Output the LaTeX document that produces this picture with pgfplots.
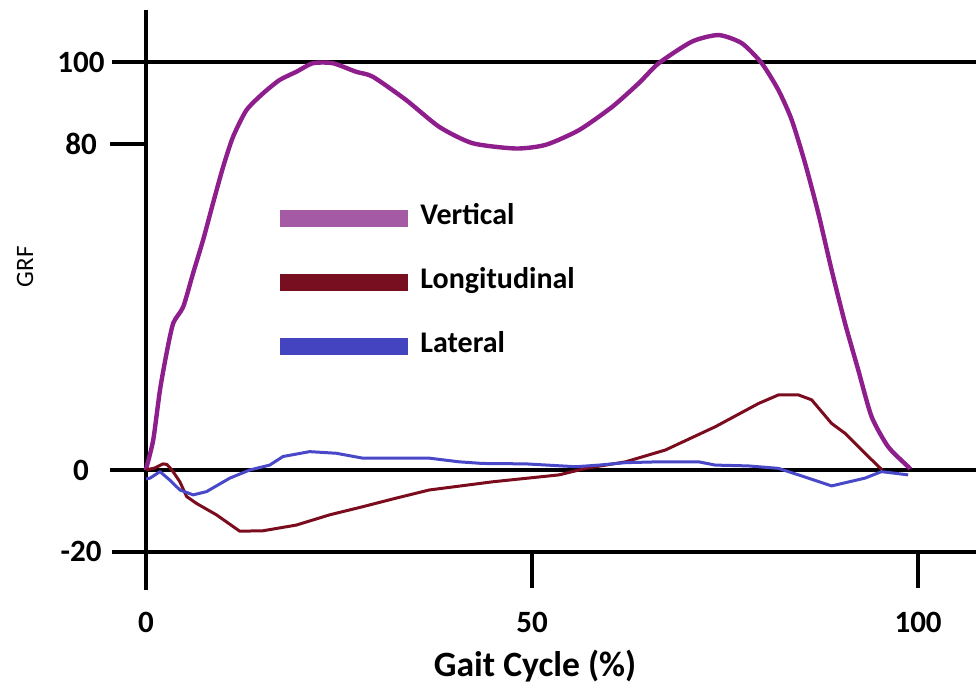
\documentclass[border=0pt]{standalone}
\usepackage{pgfplots}
\pgfplotsset{compat=1.18}
\usepackage{pgfplotstable}
\usepackage{fontspec}
\setmainfont{Carlito}
\definecolor{vcol}{RGB}{142,30,140}
\definecolor{lcol}{RGB}{122,12,30}
\definecolor{tcol}{RGB}{72,72,200}
\definecolor{vsw}{RGB}{165,90,165}
\definecolor{lsw}{RGB}{120,15,32}
\definecolor{tsw}{RGB}{68,68,192}

\pgfplotstableread{
x y
0 0
0.09 0.8
0.94 7.4
1.81 19.6
2.67 28.7
3.53 36.0
4.82 40.0
6.11 48.3
7.40 56.4
8.68 65.4
9.99 74.3
11.28 81.7
13.01 88.2
15.15 92.3
17.31 95.6
19.47 97.6
21.61 99.7
24.20 99.7
27.22 97.6
29.37 96.4
33.68 90.7
37.98 84.1
42.29 80.1
47.89 78.8
51.77 79.7
56.07 83.3
60.37 89.0
63.82 94.8
66.41 99.7
70.71 105.0
74.16 106.6
77.17 104.6
79.75 99.7
81.91 93.1
83.63 85.8
85.36 75.2
87.08 62.9
88.80 49.0
90.53 36.0
92.25 24.5
93.97 13.1
96.12 5.7
98.71 0.8
98.97 0.25
}\vertical

\pgfplotstableread{
x y
0 0
1.16 0.5
2.20 1.5
2.71 1.35
3.36 0
4.39 -2.9
5.26 -6.5
6.55 -8.2
9.13 -11.0
12.14 -15.0
15.15 -14.9
19.47 -13.5
23.77 -11.0
28.07 -9.0
32.39 -6.9
36.69 -4.9
44.87 -2.9
53.49 -1.2
56.94 0.4
62.11 2.0
67.27 4.9
73.73 10.6
79.33 16.3
81.91 18.4
84.50 18.4
86.21 17.2
88.80 11.4
90.53 9.0
93.11 4.1
95.35 0
}\longitudinal

\pgfplotstableread{
x y
0 -2.2
0.52 -2.0
1.81 -0.4
3.10 -2.5
4.39 -4.9
6.11 -6.1
7.84 -5.3
10.85 -2.0
13.44 0
16.02 1.2
17.74 3.3
21.19 4.5
24.64 4.1
28.07 2.9
32.39 2.9
36.69 2.9
40.57 2.0
43.58 1.6
49.19 1.5
55.65 0.8
58.66 1.2
62.11 1.8
66.41 2.0
71.58 2.0
73.73 1.2
78.00 1.0
81.91 0.4
84.50 -1.2
88.80 -3.9
93.11 -2.0
95.26 -0.4
98.71 -1.2
}\lateral

\begin{document}
\begin{tikzpicture}
\begin{axis}[
  scale only axis, width=432pt, height=290pt,
  xmin=-4.40, xmax=107.5, ymin=-29.41, ymax=112.75,
  axis line style={draw=none},
  major tick length=0pt,
  xtick={0,50,100}, xticklabels={0,50,100},
  ytick={-20,0,80,100}, yticklabels={-20,0,80,100},
  xticklabel style={anchor=center, yshift=-16.25pt, font=\bfseries\fontsize{15.5}{17}\selectfont},
  yticklabel style={anchor=center, xshift=-15.5pt, font=\bfseries\fontsize{15.5}{17}\selectfont},
  xlabel={Gait Cycle (\%)},
  xlabel style={at={(axis description cs:0.4896,-0.15)}, anchor=base, font=\bfseries\fontsize{17.8}{20}\selectfont},
  ylabel={GRF},
  ylabel style={at={(axis description cs:-0.1007,0.557)}, anchor=center, font=\fontsize{12.5}{14}\selectfont},
  clip=false,
  legend image code/.code={\fill (0pt,-4.25pt) rectangle (64pt,4.25pt);},
  legend style={draw=none, fill=none, inner sep=0pt, column sep=6pt, row sep=20pt,
    at={(axis cs:17.36,64.6)}, anchor=north west,
    nodes={inner sep=0pt, text height=9pt, text depth=3pt},
    font=\bfseries\fontsize{15}{17}\selectfont},
  legend cell align=left,
]
\addlegendimage{fill=vsw, draw=none}
\addlegendimage{fill=lsw, draw=none}
\addlegendimage{fill=tsw, draw=none}
\legend{Vertical, Longitudinal, Lateral}

% frame lines
\draw[line width=2pt] (axis cs:0,-29.41) -- (axis cs:0,112.75);
\draw[line width=2pt] (axis cs:-4.40,100) -- (axis cs:107.5,100);
\draw[line width=2pt] (axis cs:-4.66,80) -- (axis cs:0,80);
\draw[line width=2pt] (axis cs:-4.66,0) -- (axis cs:107.5,0);
\draw[line width=2pt] (axis cs:-4.40,-20) -- (axis cs:107.5,-20);
\draw[line width=2pt] (axis cs:50,-20) -- (axis cs:50,-29.0);
\draw[line width=2pt] (axis cs:100,-20) -- (axis cs:100,-29.0);

\addplot[forget plot, vcol, line width=2.2pt, smooth, tension=0.4, line join=round] table[x=x,y=y] {\vertical};
\addplot[forget plot, lcol, line width=1.5pt, line join=round] table[x=x,y=y] {\longitudinal};
\addplot[forget plot, tcol, line width=1.5pt, line join=round] table[x=x,y=y] {\lateral};

\coordinate (bl) at (axis cs:-18.91,-53.68);
\coordinate (tr) at (axis cs:107.5,115.2);
\end{axis}
\pgfresetboundingbox
\path[use as bounding box] (bl) rectangle (tr);
\end{tikzpicture}
\end{document}
